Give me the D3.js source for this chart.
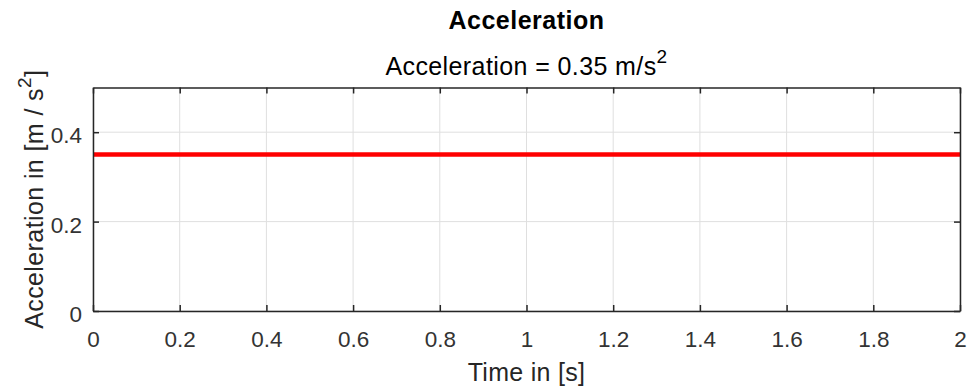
<!DOCTYPE html>
<html>
<head>
<meta charset="utf-8">
<script src="https://cdn.jsdelivr.net/npm/d3@7"></script>
<style>
  body { margin: 0; background: #fff; }
  text { font-family: "Liberation Sans", Arial, sans-serif; }
</style>
</head>
<body>
<div id="chart"></div>
<script>
// data
const time = [0, 2];
const accel = [0.35, 0.35];
const xTicks = [0, 0.2, 0.4, 0.6, 0.8, 1, 1.2, 1.4, 1.6, 1.8, 2];
const yTicks = [0, 0.2, 0.4];

const W = 972, H = 390;
var margin = { top: 87.5, right: 12, bottom: 79, left: 93 },
    width = W - margin.left - margin.right,
    height = H - margin.top - margin.bottom;

var svg = d3.select("#chart").append("svg")
    .attr("width", W)
    .attr("height", H);

var g = svg.append("g")
    .attr("transform", "translate(" + margin.left + "," + margin.top + ")");

var x = d3.scaleLinear().domain([0, 2]).range([0, width]);
var y = d3.scaleLinear().domain([0, 0.5]).range([height, 0]);

// grid
g.selectAll(".vgrid").data(xTicks).enter().append("line")
    .attr("x1", d => x(d)).attr("x2", d => x(d))
    .attr("y1", 0).attr("y2", height)
    .attr("stroke", "#dfdfdf").attr("stroke-width", 1);
g.selectAll(".hgrid").data(yTicks).enter().append("line")
    .attr("y1", d => y(d)).attr("y2", d => y(d))
    .attr("x1", 0).attr("x2", width)
    .attr("stroke", "#dfdfdf").attr("stroke-width", 1);

// data line
var pts = time.map((t, i) => [t, accel[i]]);
g.append("path")
    .datum(pts)
    .attr("fill", "none")
    .attr("stroke", "#ff0000")
    .attr("stroke-width", 4.5)
    .attr("d", d3.line().x(d => x(d[0])).y(d => y(d[1])));

// axes (inward ticks, box)
const axisColor = "#262626";
var xAxis = g.append("g").attr("transform", "translate(0," + height + ")")
    .call(d3.axisBottom(x).tickValues(xTicks).tickSizeInner(-6).tickSizeOuter(0).tickFormat(d3.format("~g")));
var xTop = g.append("g")
    .call(d3.axisTop(x).tickValues(xTicks).tickSizeInner(-6).tickSizeOuter(0).tickFormat(""));
var yAxis = g.append("g")
    .call(d3.axisLeft(y).tickValues(yTicks).tickSizeInner(-6).tickSizeOuter(0).tickFormat(d3.format("~g")));
var yRight = g.append("g").attr("transform", "translate(" + width + ",0)")
    .call(d3.axisRight(y).tickValues(yTicks).tickSizeInner(-6).tickSizeOuter(0).tickFormat(""));

[xAxis, xTop, yAxis, yRight].forEach(a => {
    a.select(".domain").attr("stroke", axisColor).attr("stroke-width", 1.5);
    a.selectAll(".tick line").attr("stroke", axisColor).attr("stroke-width", 1.5);
    a.selectAll(".tick text").attr("fill", "#333")
        .attr("font-size", 22.5)
        .attr("font-family", "'Liberation Sans', Arial, sans-serif");
});
// place labels like matlab: baseline below the axis / slightly under the tick
xAxis.selectAll(".tick text").attr("y", 35.5).attr("dy", 0);
yAxis.selectAll(".tick text").attr("x", -11).attr("dy", 0).attr("y", 10.5);

// titles
var cx = margin.left + width / 2;
svg.append("text")
    .attr("x", cx).attr("y", 29)
    .attr("text-anchor", "middle")
    .attr("font-size", 25).attr("font-weight", "bold")
    .style("letter-spacing", "0.5px")
    .attr("fill", "#000")
    .text("Acceleration");

var sub = svg.append("text")
    .attr("x", cx).attr("y", 75)
    .attr("text-anchor", "middle")
    .attr("font-size", 25)
    .style("letter-spacing", "0.4px")
    .attr("fill", "#000");
sub.append("tspan").text("Acceleration = 0.35 m/s");
sub.append("tspan").attr("dy", -12).attr("font-size", 19).text("2");

svg.append("text")
    .attr("x", cx).attr("y", 381)
    .attr("text-anchor", "middle")
    .attr("font-size", 25)
    .style("letter-spacing", "0.3px")
    .attr("fill", axisColor)
    .text("Time in [s]");

var yl = svg.append("text")
    .attr("transform", "translate(43," + (margin.top + height / 2) + ") rotate(-90)")
    .attr("text-anchor", "middle")
    .attr("font-size", 25)
    .style("letter-spacing", "0.4px")
    .attr("fill", axisColor);
yl.append("tspan").text("Acceleration in [m / s");
yl.append("tspan").attr("dy", -12).attr("font-size", 19).text("2");
yl.append("tspan").attr("dy", 12).text("]");
</script>
</body>
</html>
